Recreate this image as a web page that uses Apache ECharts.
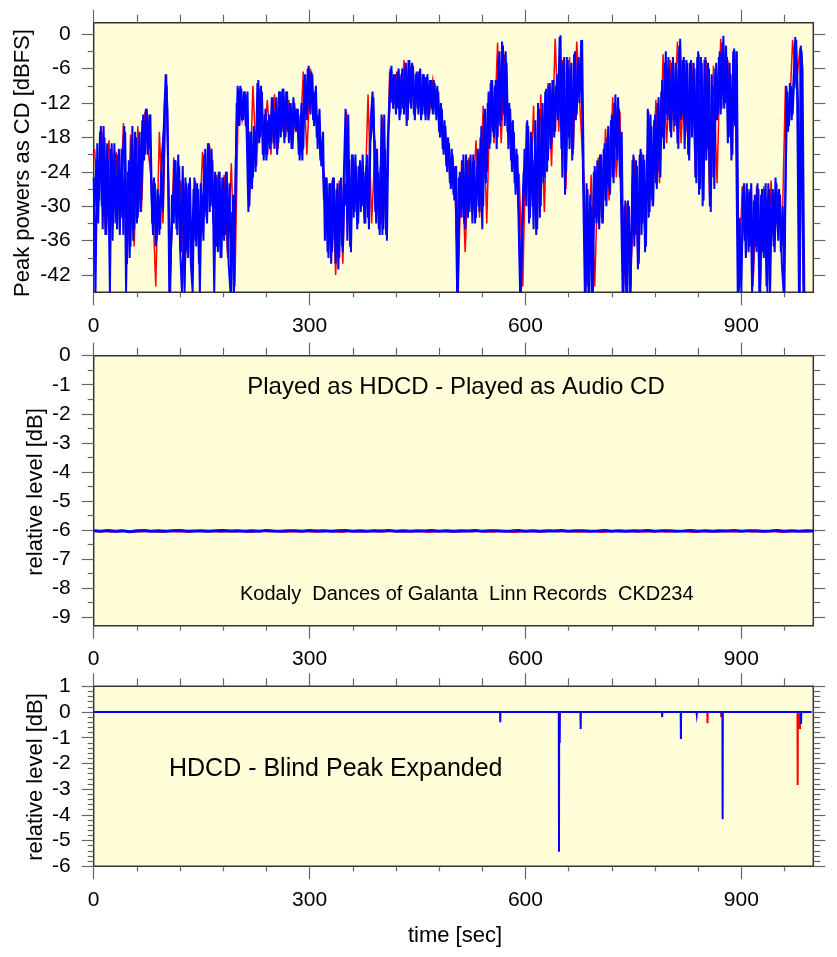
<!DOCTYPE html>
<html>
<head>
<meta charset="utf-8">
<script src="https://cdn.jsdelivr.net/npm/echarts@6/dist/echarts.min.js"></script>
<style>
html,body{margin:0;padding:0;background:#fff;}
#chart{width:837px;height:957px;}
</style>
</head>
<body>
<div id="chart"></div>
<script>
// ---------- DATA ----------
// Top panel: peak powers (dBFS).
// Blue read in two interleaved passes: topBlue at t = 2.5*i, topBlue2 at t = 1.25 + 2.5*i
var topBlueStep = 2.5;
var topBlue = [
-25,-45,-19,-29,-16,-34,-18,-35,-22,-45,
-19,-33,-21,-34,-20,-32,-22,-16,-45,-24,
-39,-18,-36,-17,-33,-20,-31,-15,-22,-13,
-21,-14,-27,-35,-26,-36,-28,-34,-21,-16,
-7,-13,-45,-45,-30,-22,-34,-21,-37,-45,
-45,-25,-38,-26,-40,-45,-25,-37,-27,-45,
-28,-36,-20,-33,-19,-30,-22,-45,-25,-38,
-24,-39,-25,-35,-24,-40,-45,-31,-45,-22,
-9,-16,-9.5,-15,-10,-17,-31,-17,-27,-16,
-24,-8.5,-19,-9,-21,-14,-22,-15,-20,-11,
-19,-13,-21,-10,-18,-9.5,-19,-10,-17,-12,
-20,-11,-16,-13,-21,-14,-22,-8,-14,-6,
-13,-6.5,-15,-10,-18,-14,-22,-19,-29,-25,
-38,-26,-40,-25,-36,-27,-41,-26,-37,-25,
-13,-36,-22,-38,-21,-31,-23,-33,-22,-30,
-24,-33,-21,-34,-15,-10,-18,-33,-24,-35,
-14,-34,-20,-36,-14,-6,-12,-7,-14,-6.5,
-15,-7,-13,-6,-16,-4.5,-12,-5,-14,-7,
-13,-6.5,-15,-7,-14,-7.5,-15,-8,-13,-8,
-14,-9,-17,-12,-20,-15,-23,-18,-26,-20,
-28,-23,-45,-25,-31,-22,-33,-21,-32,-22,
-31,-21,-33,-23,-30,-18,-34,-14,-26,-12,
-20,-8,-17,-9,-20,-4,-16,-1.3,-14,-3,
-17,-12,-22,-15,-26,-20,-30,-45,-45,-24,
-28,-15,-33,-17,-30,-22,-35,-12,-32,-14,
-26,-10,-24,-9,-20,-8,-18,-9,-15,-0.5,
-20,-5,-28,-4,-18,-6,-22,-3.5,-15,-5,
-12,-1,-25,-45,-26,-45,-28,-45,-24,-32,
-22,-34,-21,-33,-19,-30,-16,-28,-14,-26,
-10.5,-22,-13,-27,-45,-30,-45,-29,-45,-36,
-21,-35,-23,-40,-20,-33,-22,-37,-13,-31,
-16,-30,-14,-27,-11,-25,-8,-20,-3,-15,
-6,-18,-4,-16,-6,-20,-0.8,-14,-4,-17,
-5,-22,-4.5,-15,-6,-26,-3,-27,-5,-29,
-4,-20,-6,-31,-9,-27,-5,-14,-3,-13,
-0.3,-12,-4,-18,-7,-21,-2.5,-15,-45,-32,
-45,-27,-36,-26,-38,-27,-45,-29,-37,-26,
-45,-28,-38,-27,-44,-26,-45,-28,-37,-25,
-33,-27,-38,-30,-45,-9,-17,-8.5,-15,-8,
-0.5,-10,-45,-2,-6,-45
];
var topBlue2Start = 1.25;
var topBlue2 = [
-30,-22,-33,-17, -30,-16,-35,-19, -34,-20,-36,-19, -33,-21,-35,-20, -35,-17,-40,-22,
-37,-16,-34,-18, -32,-17,-29,-14, -21,-13,-20,-14, -33,-25,-37,-27, -35,-24,-31,-12,
-9,-25,-45,-28, -33,-22,-35,-23, -38,-23,-45,-26, -39,-25,-41,-27, -36,-26,-40,-26,
-34,-21,-31,-19, -31,-20,-33,-24, -37,-24,-39,-25, -36,-24,-38,-26, -45,-28,-33,-12,
-16,-9,-15,-10, -16,-10,-30,-17, -25,-17,-19,-8, -18,-10,-22,-13, -21,-14,-19,-11,
-20,-11,-19,-10, -17,-9.5,-18,-10, -19,-12,-20,-12, -17,-13,-22,-12, -20,-7,-15,-5.5,
-14,-7,-16,-9, -20,-13,-23,-17, -36,-25,-39,-26, -38,-25,-40,-26, -39,-25,-38,-26,
-30,-14,-37,-21, -32,-21,-34,-23, -31,-21,-33,-23, -32,-19,-17,-11, -31,-20,-34,-23,
-35,-14,-35,-18, -13,-5.5,-13,-7, -13,-6,-14,-6, -14,-5,-15,-4.5, -13,-5.5,-15,-6.5,
-14,-6,-14,-7, -15,-7,-14,-8, -14,-8.5,-15,-10, -18,-13,-21,-16, -24,-19,-27,-21,
-29,-23,-45,-24, -32,-21,-34,-22, -31,-21,-33,-22, -32,-20,-31,-16, -30,-13,-24,-10,
-19,-8,-18,-8, -18,-3,-15,-2, -16,-5,-20,-13, -24,-17,-28,-21, -33,-45,-45,-20,
-30,-16,-32,-18, -34,-15,-34,-13, -30,-12,-25,-9.5, -22,-8.5,-19,-8, -17,-7,-14,-0.2,
-25,-4,-24,-4.5, -20,-5,-20,-3, -14,-4,-10,-1, -28,-45,-27,-45, -30,-45,-23,-33,
-33,-21,-32,-20, -29,-18,-27,-15, -25,-12,-20,-11, -25,-17,-45,-29, -45,-30,-45,-22,
-37,-22,-41,-21, -35,-21,-38,-21, -32,-14,-29,-15, -26,-12,-24,-10, -18,-5,-14,-4,
-17,-5,-15,-5, -19,-2,-15,-4.5, -20,-4.5,-21,-5, -18,-5,-25,-4, -28,-4,-30,-4.5,
-22,-5,-30,-7, -25,-6,-15,-4, -14,-1.5,-13,-2, -19,-5,-22,-3, -16,-3,-45,-45,
-36,-26,-39,-27, -37,-26,-42,-28, -38,-27,-45,-27, -39,-26,-45,-27, -36,-27,-38,-26,
-36,-28,-40,-45, -45,-10,-16,-9, -14,-7,-1,-12, -45,-3,-45
];
var topRedStart = 1.25, topRedStep = 5;
var topRed = [
-20,-30, -17,-34, -18.5,-33, -20.5,-33, -15.5,-40,
-17.5,-37, -16,-31, -13.5,-21, -26.5,-44, -17,-33,
-7,-44, -21.5,-33, -25.5,-44, -26.5,-39, -25.5,-36,
-20.5,-32, -19.5,-30, -24.5,-38, -24.5,-39, -22.5,-44,
-9.5,-15, -10.5,-30, -9,-23, -9.5,-20, -11.5,-21,
-10.5,-20, -10,-18, -11.5,-19, -13,-20, -6.5,-21,
-6,-14, -14.5,-21, -25.5,-37, -25.5,-42, -25.5,-40,
-13.5,-37, -21.5,-32, -22.5,-32, -10.5,-33, -18.5,-34,
-14.5,-35, -6.5,-13, -6.5,-14, -4.5,-15, -5.5,-13,
-6.5,-14, -7.5,-14, -8,-13, -12.5,-19, -18.5,-25,
-23.5,-44, -22,-38, -21.5,-31, -18.5,-32, -12.5,-33,
-8.5,-19, -1.5,-19, -3.5,-16, -15.5,-25, -24.5,-44,
-15.5,-32, -12.5,-34, -10.5,-31, -8.5,-23, -0.8,-17,
-4.5,-27, -4,-21, -1.3,-14, -25.5,-44, -24.5,-44,
-21.5,-33, -16.5,-29, -11,-25, -13.5,-44, -29.5,-44,
-21.5,-39, -20.5,-36, -13.5,-30, -11.5,-26, -3.5,-19,
-4.5,-17, -1.3,-19, -4.5,-21, -5,-25, -3.5,-28,
-4.5,-30, -5.5,-26, -0.8,-12.5, -4.5,-20, -3,-44,
-26.5,-36, -27.5,-44, -26.5,-44, -26.5,-43, -25.5,-36,
-27.5,-37, -9,-16, -1,-9.5, -2.5,-44
];

// Middle panel: relative level (dB), blue every 10 s from 0, red every 10 s from 5
var midStep = 10;
var midBlue = [
-6.03,-6.05,-6.02,-6.05,-6.03,-6.06,-6.03,-6.02,-6.05,-6.03,
-6.05,-6.03,-6.02,-6.05,-6.04,-6.03,-6.05,-6.03,-6.02,-6.04,
-6.03,-6.05,-6.03,-6.05,-6.02,-6.04,-6.05,-6.03,-6.03,-6.05,
-6.02,-6.04,-6.03,-6.05,-6.03,-6.02,-6.05,-6.03,-6.05,-6.03,
-6.04,-6.02,-6.05,-6.03,-6.05,-6.03,-6.04,-6.02,-6.05,-6.03,
-6.05,-6.03,-6.04,-6.02,-6.05,-6.03,-6.03,-6.05,-6.04,-6.02,
-6.05,-6.03,-6.05,-6.03,-6.04,-6.02,-6.05,-6.03,-6.03,-6.05,
-6.04,-6.02,-6.05,-6.03,-6.05,-6.03,-6.04,-6.02,-6.05,-6.03,
-6.03,-6.05,-6.04,-6.02,-6.05,-6.03,-6.05,-6.03,-6.04,-6.02,
-6.05,-6.03,-6.03,-6.05,-6.04,-6.02,-6.05,-6.03,-6.05,-6.03,
-6.04
];
var midRed = [
-6.06,-6.05,-6.07,-6.06,-6.04,-6.07,-6.06,-6.05,-6.06,-6.08,
-6.05,-6.06,-6.06,-6.07,-6.04,-6.06,-6.05,-6.07,-6.06,-6.06,
-6.05,-6.08,-6.06,-6.04,-6.06,-6.05,-6.07,-6.06,-6.06,-6.05,
-6.07,-6.06,-6.04,-6.06,-6.08,-6.05,-6.06,-6.07,-6.05,-6.06,
-6.06,-6.04,-6.07,-6.06,-6.06,-6.05,-6.08,-6.06,-6.05,-6.06,
-6.07,-6.05,-6.06,-6.04,-6.06,-6.07,-6.05,-6.06,-6.08,-6.06,
-6.05,-6.06,-6.07,-6.04,-6.06,-6.05,-6.06,-6.07,-6.06,-6.05,
-6.08,-6.06,-6.04,-6.06,-6.05,-6.07,-6.06,-6.06,-6.05,-6.07,
-6.06,-6.04,-6.06,-6.08,-6.05,-6.06,-6.07,-6.05,-6.06,-6.06,
-6.04,-6.07,-6.06,-6.06,-6.05,-6.08,-6.06,-6.05,-6.06,-6.06
];

// Bottom panel: blind peak expansion spikes (time s, level dB); baseline 0 dB
var botBlueEnd = 997.7;
var botBlueSpikeT = [565, 646.6, 647.6, 676.7, 790, 816, 838, 874, 983];
var botBlueSpikeV = [-0.4, -5.43, -1.2, -0.66, -0.2, -1.05, -0.08, -4.17, -0.47];
var botRedEnd = 990;
var botRedSpikeT = [853, 872, 978.3, 981.5];
var botRedSpikeV = [-0.44, -0.2, -2.84, -0.66];

// Tick labels
var xLabels = [0, 300, 600, 900];
var xMinor = [60,120,180,240,360,420,480,540,660,720,780,840,960];
var topYLabels = [0,-6,-12,-18,-24,-30,-36,-42];
var topYMinor = [-3,-9,-15,-21,-27,-33,-39];
var midYLabels = [0,-1,-2,-3,-4,-5,-6,-7,-8,-9];
var midYMinor = [-0.5,-1.5,-2.5,-3.5,-4.5,-5.5,-6.5,-7.5,-8.5];
var botYLabels = [1,0,-1,-2,-3,-4,-5,-6];

// ---------- BUILD ----------
var botYMinor = [];
for (var k = 1; k < 35; k++) { if (k % 5 !== 0) botYMinor.push(+(1 - k * 0.2).toFixed(2)); }

function pairs(arr, start, step) { return arr.map(function (v, i) { return [start + i * step, v]; }); }
function spikeLine(ts, vs, end) {
  var d = [[0, 0]];
  for (var i = 0; i < ts.length; i++) {
    d.push([ts[i] - 0.3, 0]); d.push([ts[i], vs[i]]); d.push([ts[i] + 0.3, 0]);
  }
  d.push([end, 0]);
  return d;
}

var FONT = 'Liberation Sans, Arial, Helvetica, sans-serif';
var TICK = '#666';

var grids = [
  {left: 93.7, right: 23.7, top: 22.7, height: 269.6},
  {left: 93.7, right: 23.7, top: 355.7, height: 270},
  {left: 93.7, right: 23.7, top: 686.3, height: 180}
].map(function (g) {
  return Object.assign(g, {show: true, backgroundColor: '#FFFED8', borderColor: '#333', borderWidth: 1.5, containLabel: false});
});

var xAxes = [], yAxes = [];
var yDefs = [
  {min: -45, max: 2, major: topYLabels, minor: topYMinor},
  {min: -9.3, max: 0, major: midYLabels, minor: midYMinor},
  {min: -6, max: 1, major: botYLabels, minor: botYMinor}
];
for (var g = 0; g < 3; g++) {
  [['bottom', true, 13, xLabels], ['bottom', false, 5, xMinor], ['top', false, 13, xLabels], ['top', false, 8, xMinor]].forEach(function (c) {
    xAxes.push({
      type: 'value', gridIndex: g, min: 0, max: 1000, position: c[0],
      axisLine: {show: false, onZero: false}, splitLine: {show: false},
      axisTick: {show: true, inside: false, length: c[2], customValues: c[3], lineStyle: {color: TICK, width: 1.2}},
      axisLabel: {show: c[1], customValues: xLabels, margin: 23, fontSize: 21, color: '#000', fontFamily: FONT}
    });
  });
  var yd = yDefs[g];
  [['left', true, 12, yd.major], ['left', false, 6, yd.minor], ['right', false, 12, yd.major], ['right', false, 7, yd.minor]].forEach(function (c) {
    yAxes.push({
      type: 'value', gridIndex: g, min: yd.min, max: yd.max, position: c[0],
      axisLine: {show: false, onZero: false}, splitLine: {show: false},
      axisTick: {show: true, inside: false, length: c[2], customValues: c[3], lineStyle: {color: TICK, width: 1.2}},
      axisLabel: {show: c[1], customValues: yd.major, margin: 23, fontSize: 21, color: '#000', fontFamily: FONT}
    });
  });
}

function lineSeries(gi, data, color, width, z) {
  return {
    type: 'line', xAxisIndex: gi * 4, yAxisIndex: gi * 4, data: data, showSymbol: false, symbol: 'none',
    lineStyle: {color: color, width: width, join: 'miter'}, z: z, silent: true, clip: true
  };
}

var series = [
  lineSeries(0, pairs(topRed, topRedStart, topRedStep), '#FF0000', 1.5, 2),
  lineSeries(0, pairs(topBlue, 0, topBlueStep), '#0000FF', 2, 3),
  lineSeries(0, pairs(topBlue2, topBlue2Start, topBlueStep), '#0000FF', 2, 3),
  lineSeries(1, pairs(midRed, 5, midStep), '#FF0000', 1.5, 2),
  lineSeries(1, pairs(midBlue, 0, midStep), '#0000FF', 3, 3),
  lineSeries(2, spikeLine(botRedSpikeT, botRedSpikeV, botRedEnd), '#FF0000', 2, 2),
  lineSeries(2, spikeLine(botBlueSpikeT, botBlueSpikeV, botBlueEnd), '#0000FF', 2, 3)
];

function txt(t, x, y, size, align, rot) {
  return {
    type: 'text', x: x, y: y, rotation: rot || 0, z: 100,
    style: {text: t, font: size + 'px ' + FONT, fill: '#000', textAlign: align, textVerticalAlign: 'middle', align: align, verticalAlign: 'middle'}
  };
}

var chart = echarts.init(document.getElementById('chart'), null, {renderer: 'canvas'});
chart.setOption({
  animation: false,
  backgroundColor: '#fff',
  textStyle: {fontFamily: FONT},
  grid: grids,
  xAxis: xAxes,
  yAxis: yAxes,
  series: series,
  graphic: [
    txt('Peak powers as CD [dBFS]', 23, 163, 22, 'center', Math.PI / 2),
    txt('relative level [dB]', 36, 492, 22, 'center', Math.PI / 2),
    txt('relative level [dB]', 36, 777, 22, 'center', Math.PI / 2),
    txt('Played as HDCD - Played as Audio CD', 456, 387, 24, 'center'),
    txt('Kodaly  Dances of Galanta  Linn Records  CKD234', 240, 594, 20, 'left'),
    txt('HDCD - Blind Peak Expanded', 169, 769, 25, 'left'),
    txt('time [sec]', 455, 936, 22, 'center')
  ]
});
</script>
</body>
</html>
